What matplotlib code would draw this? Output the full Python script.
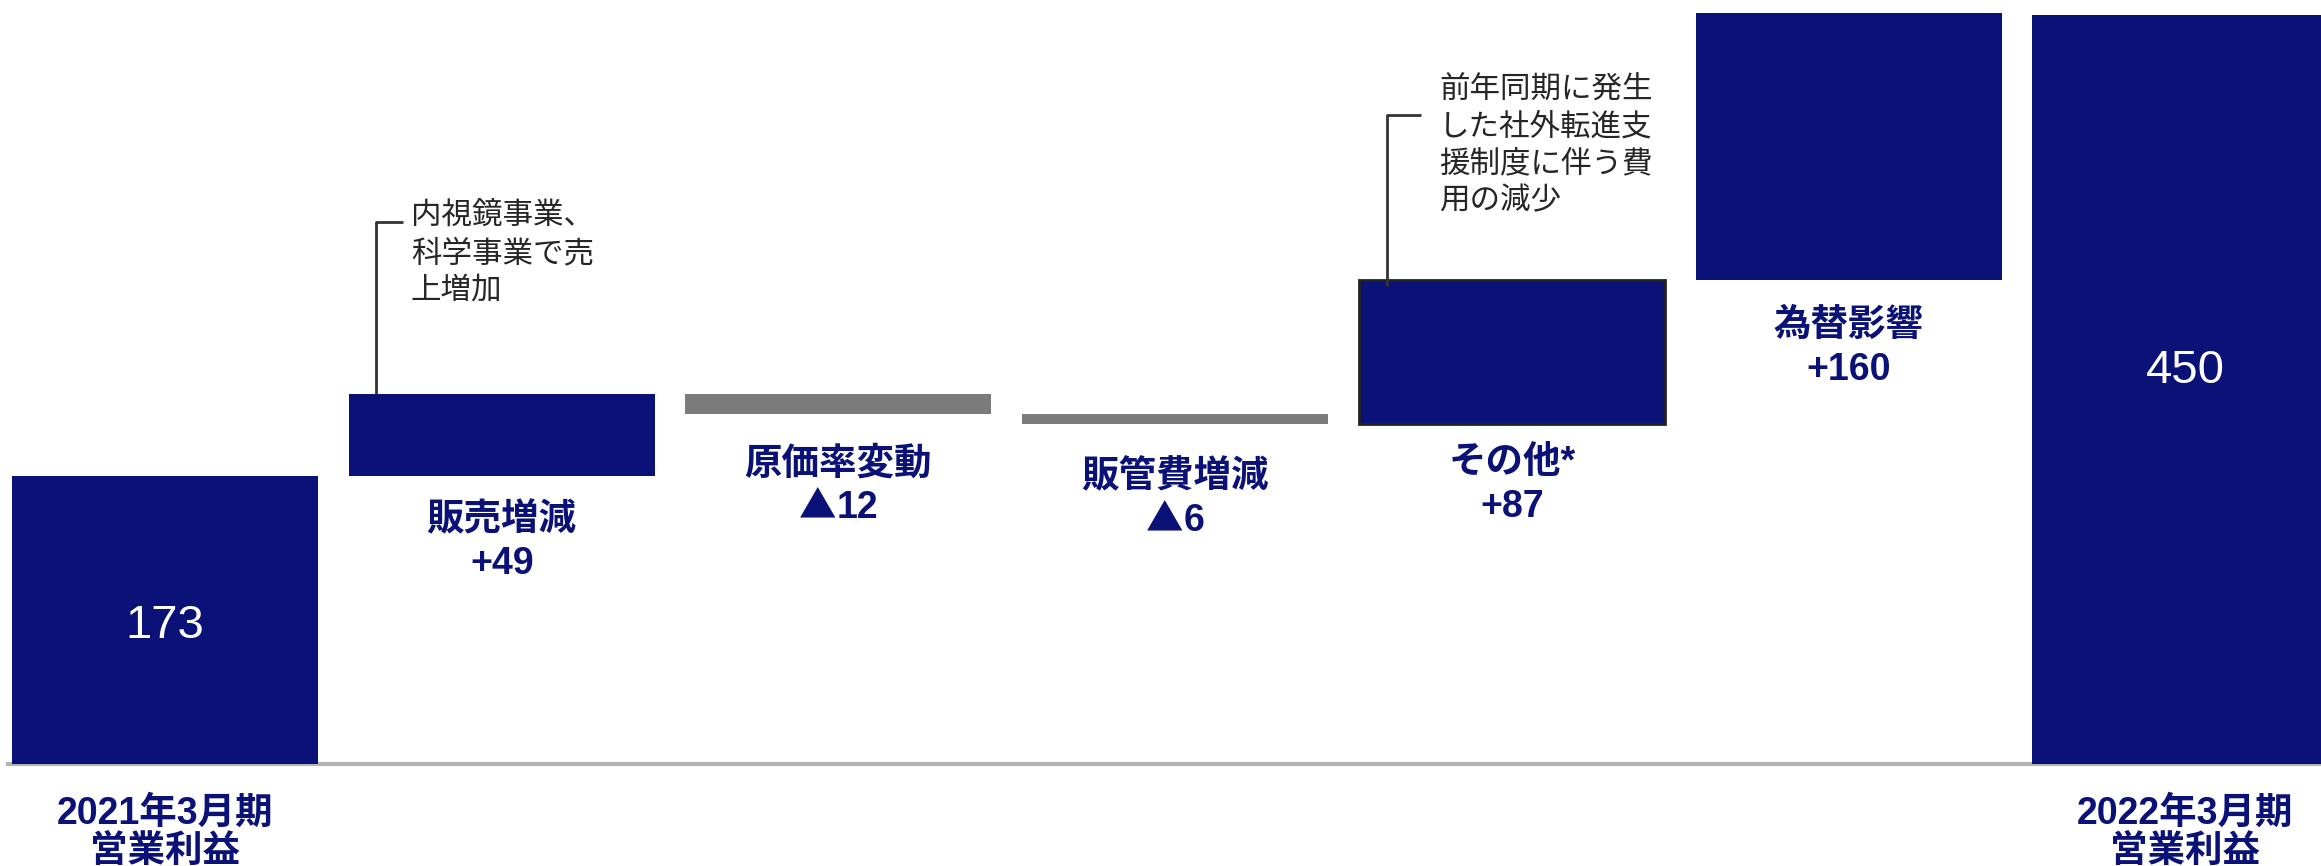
import matplotlib
matplotlib.use("Agg")
import matplotlib.pyplot as plt
import numpy as np

plt.rcParams['font.family'] = ['Liberation Sans', 'Noto Sans CJK JP', 'DejaVu Sans']

# データ（億円）
labels = ['2021年3月期\n営業利益', '販売増減', '原価率変動', '販管費増減', 'その他*', '為替影響', '2022年3月期\n営業利益']
values = [173, 49, -12, -6, 87, 160, 450]
is_total = [True, False, False, False, False, False, True]
value_text = ['173', '+49', '▲12', '▲6', '+87', '+160', '450']
notes = {1: '内視鏡事業、\n科学事業で売\n上増加',
         4: '前年同期に発生\nした社外転進支\n援制度に伴う費\n用の減少'}

navy = '#0a1177'
gray = '#7b7b7b'

# 積み上げ位置
bottoms = []
heights = []
run = 0
for v, tot in zip(values, is_total):
    if tot:
        bottoms.append(0)
        heights.append(v)
        run = v
    else:
        bottoms.append(run if v >= 0 else run + v)
        heights.append(abs(v))
        run += v

colors = [navy if v >= 0 else gray for v in values]

fig = plt.figure(figsize=(23.21, 8.66), dpi=100)
ax = fig.add_axes([0, 0, 1, 1])
ax.set_xlim(-0.490, 6.403)
ax.set_ylim(-61.3, 458.9)
ax.axis('off')

px_per_x = 2321 / (6.403 + 0.490)

w = 0.909
x = np.arange(len(values))
bars = ax.bar(x, heights, bottom=bottoms, width=w, color=colors, zorder=2)
# その他 には枠線
bars[4].set_edgecolor('#222222')
bars[4].set_linewidth(2)

ax.axhline(0, xmin=0.0035, xmax=1, color='#b3b3b3', lw=3, zorder=1)

fig.canvas.draw()
renderer = fig.canvas.get_renderer()


def value_line(xc, y, s):
    kw = dict(color=navy, fontsize=27, fontweight='bold', va='baseline', ha='left')
    if s.startswith('▲'):
        t1 = ax.text(xc, y, '▲', family='Noto Sans CJK JP', **kw)
        t2 = ax.text(xc, y, s[1:], **kw)
        w1 = t1.get_window_extent(renderer).width / px_per_x
        w2 = t2.get_window_extent(renderer).width / px_per_x
        left = xc - (w1 + w2) / 2
        t1.set_x(left)
        t2.set_x(left + w1)
    else:
        kw['ha'] = 'center'
        ax.text(xc, y, s, **kw)


# ラベルと棒下端の間隔（データ単位）
label_gap = [0, 32.4, 36, 37.8, 29.4, 34.2, 0]

for i in range(len(values)):
    if is_total[i]:
        ypos = values[i] * 0.5 - 3.5 if i == 0 else values[i] * 0.53 - 2.5
        ax.text(x[i], ypos, value_text[i], color='white', fontsize=34,
                ha='center', va='center', zorder=3)
        l1, l2 = labels[i].split('\n')
        ax.text(x[i], -36, l1, color=navy, fontsize=27, fontweight='bold',
                ha='center', va='baseline')
        ax.text(x[i], -58.6, l2, color=navy, fontsize=27, fontweight='bold',
                ha='center', va='baseline')
    else:
        yb = bottoms[i] - label_gap[i]
        ax.text(x[i], yb, labels[i], color=navy, fontsize=27, fontweight='bold',
                ha='center', va='baseline')
        value_line(x[i], yb - 26.4, value_text[i])

# 注記と引き出し線
for i, txt in notes.items():
    top = bottoms[i] + heights[i]
    lx = x[i] - w / 2 + (0.08 if i == 1 else 0.085)
    ly = top + (103.5 if i == 1 else 99)
    hl = 0.08 if i == 1 else 0.1
    ax.plot([lx, lx, lx + hl], [top - 4 if i == 4 else top, ly, ly],
            color='#333333', lw=2, zorder=4, solid_capstyle='butt')
    ax.text(lx + 0.105 if i == 1 else lx + 0.153, ly + (12 if i == 1 else 23.5), txt,
            color='#262626', fontsize=22, ha='left', va='top', linespacing=1.3)

fig.savefig('out.png', dpi=100)
